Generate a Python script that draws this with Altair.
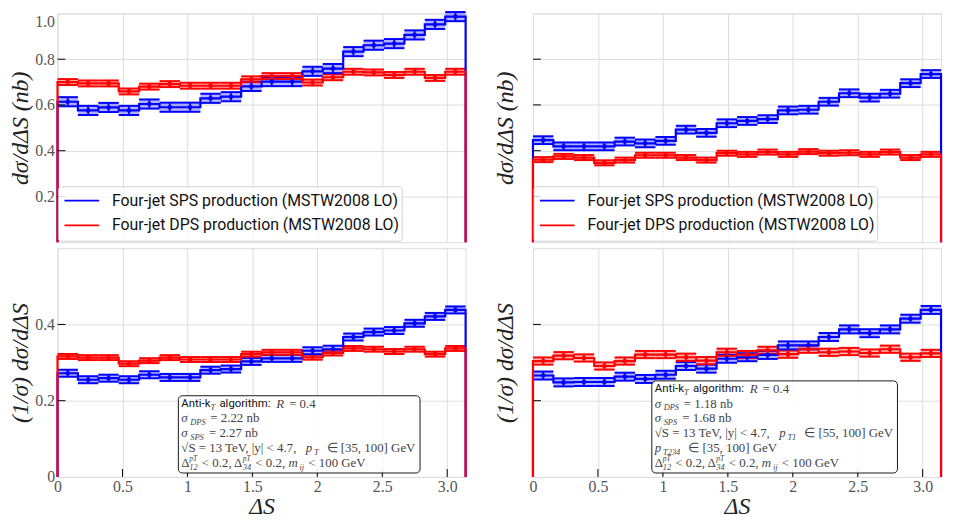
import math
import altair as alt
import pandas as pd

PI = math.pi
N_BINS = 20
bin_edges = [i * PI / N_BINS for i in range(N_BINS + 1)]

series_names = ["SPS", "DPS"]
series_colors = ["#0000ff", "#ff0000"]
legend_labels = ["Four-jet SPS production (MSTW2008 LO)",
                 "Four-jet DPS production (MSTW2008 LO)"]

x_ticks = [0, 0.5, 1, 1.5, 2, 2.5, 3]

# top-left: dsigma/dDeltaS (nb)
sps_abs_a = [0.614, 0.576, 0.589, 0.576, 0.604, 0.590, 0.590, 0.629, 0.636, 0.681,
             0.702, 0.702, 0.747, 0.759, 0.833, 0.861, 0.868, 0.906, 0.952, 0.986]
dps_abs_a = [0.700, 0.694, 0.694, 0.659, 0.680, 0.691, 0.684, 0.684, 0.684, 0.712,
             0.726, 0.726, 0.698, 0.721, 0.745, 0.742, 0.731, 0.745, 0.718, 0.745]
# top-right
sps_abs_b = [0.446, 0.419, 0.419, 0.419, 0.440, 0.432, 0.443, 0.492, 0.478, 0.520,
             0.530, 0.538, 0.576, 0.579, 0.614, 0.651, 0.632, 0.649, 0.695, 0.735]
dps_abs_b = [0.361, 0.375, 0.370, 0.347, 0.359, 0.380, 0.380, 0.370, 0.359, 0.389,
             0.384, 0.394, 0.384, 0.396, 0.389, 0.391, 0.384, 0.394, 0.370, 0.384]
# bottom-left: normalised
sps_norm_a = [0.272, 0.255, 0.259, 0.255, 0.268, 0.261, 0.261, 0.280, 0.283, 0.303,
              0.311, 0.311, 0.331, 0.335, 0.367, 0.380, 0.384, 0.403, 0.421, 0.438]
dps_norm_a = [0.316, 0.313, 0.313, 0.297, 0.305, 0.313, 0.308, 0.308, 0.308, 0.322,
              0.327, 0.327, 0.314, 0.325, 0.337, 0.335, 0.329, 0.335, 0.322, 0.337]
# bottom-right
sps_norm_b = [0.266, 0.248, 0.249, 0.249, 0.263, 0.257, 0.268, 0.291, 0.284, 0.310,
              0.314, 0.320, 0.345, 0.345, 0.367, 0.387, 0.377, 0.387, 0.415, 0.438]
dps_norm_b = [0.304, 0.318, 0.312, 0.291, 0.304, 0.321, 0.321, 0.314, 0.305, 0.327,
              0.321, 0.332, 0.322, 0.335, 0.327, 0.329, 0.325, 0.335, 0.314, 0.324]

# statistical uncertainties (half widths) per panel: (SPS, DPS)
err_abs_a = (0.020, 0.013)
err_abs_b = (0.017, 0.011)
err_norm_a = (0.0092, 0.0065)
err_norm_b = (0.0105, 0.0095)

SERIF = "Liberation Serif"
SANS = "Roboto"
W, H = 412, 231

# annotation lines: list of (text, kind)
annot_a = [
    [("Anti-k", "sans"), ("T", "sub"), (" algorithm:  ", "sans"), ("R", "it"), (" = 0.4", "serif")],
    [("σ", "it"), ("DPS", "sub"), (" = 2.22 nb", "serif")],
    [("σ", "it"), ("SPS", "sub"), (" = 2.27 nb", "serif")],
    [("√S  = 13 TeV, |y| < 4.7, ", "serif"), ("p", "it"), ("T", "sub"), ("  ∈  [35, 100] GeV", "serif")],
    [("Δ", "serif"), ("pT", "sup"), ("12", "sub"), (" < 0.2, Δ", "serif"), ("pT", "sup"),
     ("34", "sub"), (" < 0.2, ", "serif"), ("m", "it"), ("ij", "sub"), (" < 100 GeV", "serif")],
]
annot_b = [
    [("Anti-k", "sans"), ("T", "sub"), (" algorithm:  ", "sans"), ("R", "it"), (" = 0.4", "serif")],
    [("σ", "it"), ("DPS", "sub"), (" = 1.18 nb", "serif")],
    [("σ", "it"), ("SPS", "sub"), (" = 1.68 nb", "serif")],
    [("√S  = 13 TeV, |y| < 4.7, ", "serif"), ("p", "it"), ("T1", "sub"), ("  ∈  [55, 100] GeV", "serif")],
    [("p", "it"), ("T234", "sub"), ("  ∈  [35, 100] GeV", "serif")],
    [("Δ", "serif"), ("pT", "sup"), ("12", "sub"), (" < 0.2, Δ", "serif"), ("pT", "sup"),
     ("34", "sub"), (" < 0.2, ", "serif"), ("m", "it"), ("ij", "sub"), (" < 100 GeV", "serif")],
]

# approximate advance widths (em) for laying out annotation segments
TIMES_W = {' ': .25, '.': .25, ',': .25, ':': .278, '<': .564, '=': .564, '[': .333, ']': .333,
           '|': .2, '(': .333, ')': .333, '√': .549, '∈': .67, 'Δ': .612, 'σ': .55, 'S': .556,
           'T': .611, 'V': .722, 'G': .722, 'P': .611, 'D': .722, 'R': .611, 'e': .444, 'y': .5,
           'n': .5, 'b': .5, 'p': .5, 'm': .722, 'i': .278, 'j': .278}
ROBOTO_W = {'A': .652, 'n': .552, 't': .327, 'i': .243, '-': .276, 'k': .507, 'a': .544, 'l': .243,
            'g': .561, 'o': .57, 'r': .338, 'h': .551, 'm': .876, ':': .242, ' ': .248}

STYLE = {
    "sans": dict(font=SANS, fontSize=11.5, color="#111", dy=0),
    "serif": dict(font=SERIF, fontSize=13, color="#444", dy=0),
    "it": dict(font=SERIF, fontSize=13, fontStyle="italic", color="#444", dy=0),
    "sub": dict(font=SERIF, fontSize=8.5, fontStyle="italic", color="#444", dy=3.5),
    "sup": dict(font=SERIF, fontSize=7.5, fontStyle="italic", color="#444", dy=-4.5),
}
GAP_AFTER = {"it": 1.8, "sub": 1.0}


def seg_width(s, kind):
    size = STYLE[kind]["fontSize"]
    table = ROBOTO_W if kind == "sans" else TIMES_W
    w = 0.0
    for ch in s:
        if ch in table:
            w += table[ch]
        elif ch.isdigit():
            w += 0.5 if kind != "sans" else 0.561
        elif ch.isupper():
            w += 0.67
        else:
            w += 0.5
    return w * size


dummy = pd.DataFrame({"d": [0]})


def text_mark(x, y, s, kind):
    st = dict(STYLE[kind])
    dy = st.pop("dy")
    return alt.Chart(dummy).mark_text(align="left", baseline="middle", text=s, **st).encode(
        x=alt.value(x), y=alt.value(y + dy))


def annotation_layers(lines, x0, y0, dyl):
    out = []
    for li, segs in enumerate(lines):
        x = x0
        y = y0 + li * dyl
        for s, kind in segs:
            core = s.strip(" ")
            lead = len(s) - len(s.lstrip(" "))
            trail = len(s) - len(s.rstrip(" "))
            sp = seg_width(" ", kind)
            start = x + lead * sp
            out.append(text_mark(start, y, core, kind))
            if kind != "sup":
                x = start + seg_width(core, kind) + trail * sp + GAP_AFTER.get(kind, 0)
    return out


def make_panel(sps, dps, errs, ymax, ytick_vals, show_ylabels, ytitle, bottom,
               legend=False, annot=None, box=None):
    rows, path = [], []
    for name, vals, err in zip(series_names, [sps, dps], errs):
        o = 0
        path.append(dict(s=name, px=0.0, py=0.0, o=o))
        for i, v in enumerate(vals):
            lo, hi = bin_edges[i], bin_edges[i + 1]
            rows.append(dict(s=name, lo=lo, hi=hi, mid=(lo + hi) / 2, v=v, vlo=v - err, vhi=v + err))
            o += 1
            path.append(dict(s=name, px=lo, py=v, o=o))
            o += 1
            path.append(dict(s=name, px=hi, py=v, o=o))
        o += 1
        path.append(dict(s=name, px=PI, py=0.0, o=o))
    df = pd.DataFrame(rows)
    dpath = pd.DataFrame(path)

    xscale = alt.Scale(domain=[0, PI], nice=False, zero=False)
    yscale = alt.Scale(domain=[0, ymax], nice=False, zero=False)
    color = alt.Color("s:N", scale=alt.Scale(domain=series_names, range=series_colors), legend=None)

    if bottom:
        xaxis = alt.Axis(values=x_ticks, grid=True, ticks=False, domain=False, labelFlush=False,
                         labelExpr="datum.value == 3 ? '3.0' : '' + datum.value",
                         labelFont=SERIF, labelFontSize=16, labelColor="#555", labelPadding=2,
                         title="ΔS", titleFont=SERIF, titleFontStyle="italic", titleFontSize=24,
                         titleFontWeight="normal", titleColor="#222", titlePadding=0)
    else:
        xaxis = alt.Axis(values=x_ticks, grid=True, ticks=False, domain=False, labels=False, title=None)

    yaxis = alt.Axis(values=ytick_vals, grid=True, ticks=False, domain=False,
                     labels=show_ylabels, labelFlush=not bottom,
                     labelExpr="datum.value == 0 ? '0' : format(datum.value, '.1f')",
                     labelFont=SERIF, labelFontSize=16, labelColor="#555", labelPadding=3,
                     title=ytitle, titleFont=SERIF, titleFontStyle="italic", titleFontSize=24,
                     titleFontWeight="normal", titleColor="#222",
                     titlePadding=2 if show_ylabels else 16)

    base = alt.Chart(df)
    band = base.mark_rect(opacity=0.3).encode(
        x=alt.X("lo:Q", scale=xscale, axis=xaxis), x2="hi:Q",
        y=alt.Y("vlo:Q", scale=yscale, axis=yaxis), y2="vhi:Q", color=color)
    upper = base.mark_rule(strokeWidth=2).encode(
        x=alt.X("lo:Q", scale=xscale, axis=xaxis), x2="hi:Q",
        y=alt.Y("vhi:Q", scale=yscale, axis=yaxis), color=color)
    lower = base.mark_rule(strokeWidth=2).encode(
        x=alt.X("lo:Q", scale=xscale, axis=xaxis), x2="hi:Q",
        y=alt.Y("vlo:Q", scale=yscale, axis=yaxis), color=color)
    step = alt.Chart(dpath).mark_line(strokeWidth=2.2).encode(
        x=alt.X("px:Q", scale=xscale, axis=xaxis),
        y=alt.Y("py:Q", scale=yscale, axis=yaxis),
        order="o:Q", color=color)
    ebar = base.mark_rule(strokeWidth=1.8).encode(
        x=alt.X("mid:Q", scale=xscale, axis=xaxis),
        y=alt.Y("vlo:Q", scale=yscale, axis=yaxis), y2="vhi:Q", color=color)
    pts = base.mark_circle(size=22, opacity=1).encode(
        x=alt.X("mid:Q", scale=xscale, axis=xaxis),
        y=alt.Y("v:Q", scale=yscale, axis=yaxis), color=color)

    layers = [band, upper, lower, step, ebar, pts]

    yt = pd.DataFrame({"t": [t for t in ytick_vals if 0 < t < ymax]})
    layers.append(alt.Chart(yt).mark_rule(color="black", strokeWidth=1).encode(
        y=alt.Y("t:Q", scale=yscale, axis=yaxis), x=alt.value(0), x2=alt.value(8)))
    if bottom:
        xt = pd.DataFrame({"t": [t for t in x_ticks if t > 0]})
        layers.append(alt.Chart(xt).mark_rule(color="black", strokeWidth=1).encode(
            x=alt.X("t:Q", scale=xscale, axis=xaxis), y=alt.value(H), y2=alt.value(H - 8)))

    if legend:
        layers.append(alt.Chart(dummy).mark_rect(fill="white", opacity=0.85, stroke="#cccccc",
                                                 strokeWidth=1, cornerRadius=3).encode(
            x=alt.value(1), x2=alt.value(348), y=alt.value(H - 56), y2=alt.value(H - 1)))
        lg = pd.DataFrame({"s": series_names, "label": legend_labels, "yy": [H - 42, H - 17]})
        layers.append(alt.Chart(lg).mark_rule(strokeWidth=2).encode(
            x=alt.value(7), x2=alt.value(42), y=alt.Y("yy:Q", scale=None), color=color))
        layers.append(alt.Chart(lg).mark_text(align="left", baseline="middle", font=SANS,
                                              fontSize=16, color="#111").encode(
            x=alt.value(55), y=alt.Y("yy:Q", scale=None), text="label:N"))

    if annot is not None:
        bx0, bx1, by0, by1, tx, ty0, dyl = box
        layers.append(alt.Chart(dummy).mark_rect(fill="white", opacity=0.9, stroke="black",
                                                 strokeWidth=1, cornerRadius=4).encode(
            x=alt.value(bx0), x2=alt.value(bx1), y=alt.value(by0), y2=alt.value(by1)))
        layers += annotation_layers(annot, tx, ty0, dyl)

    return alt.layer(*layers).properties(width=W, height=H)


tl = make_panel(sps_abs_a, dps_abs_a, err_abs_a, 1.0, [0.2, 0.4, 0.6, 0.8, 1.0], True,
                "dσ/dΔS (nb)", False, legend=True)
tr = make_panel(sps_abs_b, dps_abs_b, err_abs_b, 1.0, [0.2, 0.4, 0.6, 0.8, 1.0], False,
                "dσ/dΔS (nb)", False, legend=True)
bl = make_panel(sps_norm_a, dps_norm_a, err_norm_a, 0.6, [0, 0.2, 0.4], True,
                "(1/σ) dσ/dΔS", True, annot=annot_a,
                box=(122, 366, H - 82, H - 4, 125, H - 74, 15))
br = make_panel(sps_norm_b, dps_norm_b, err_norm_b, 0.6, [0, 0.2, 0.4], False,
                "(1/σ) dσ/dΔS", True, annot=annot_b,
                box=(120, 368, H - 97, H - 4, 123, H - 89, 15))

col_a = alt.vconcat(tl, bl, spacing=0)
col_b = alt.vconcat(tr, br, spacing=0)

chart = alt.hconcat(col_a, col_b, spacing=22).properties(
    padding={"left": 0, "top": 0, "right": 0, "bottom": 0}
).configure_view(
    stroke="black", strokeWidth=1
).configure_axis(
    gridColor="#b5b5b5", gridWidth=1, gridOpacity=1
).configure(background="white")

chart.save("out.html", embed_options={"renderer": "svg", "actions": False})
